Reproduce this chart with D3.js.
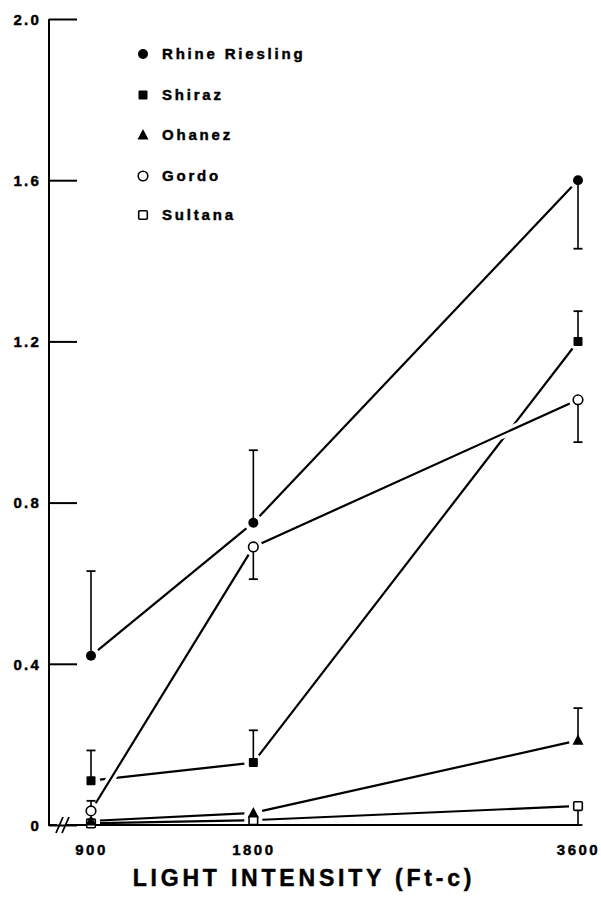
<!DOCTYPE html>
<html>
<head>
<meta charset="utf-8">
<script src="https://cdn.jsdelivr.net/npm/d3@7"></script>
<style>
  html, body { margin: 0; padding: 0; background: #fff; }
  svg { display: block; }
  text { font-family: "Liberation Sans", Arial, Helvetica, sans-serif; font-weight: bold; fill: #000; stroke: #000; stroke-width: 0.45px; }
</style>
</head>
<body>
<svg id="chart" width="601" height="897"></svg>
<script>
// ---- data ----
const intensities = [900, 1800, 3600];
const yTicks = [0, 0.4, 0.8, 1.2, 1.6, 2.0];
const yTickLabels = ["0", "0.4", "0.8", "1.2", "1.6", "2.0"];
const varieties = ["Rhine Riesling", "Shiraz", "Ohanez", "Gordo", "Sultana"];
const rhineRiesling = [0.42, 0.75, 1.60];
const shiraz = [0.11, 0.155, 1.20];
const ohanez = [0.01, 0.03, 0.21];
const gordo = [0.035, 0.69, 1.055];
const sultana = [0.004, 0.012, 0.047];
// error bar end values (null = none shown)
const rhineRieslingErr = [0.63, 0.93, 1.43];
const shirazErr = [0.185, 0.235, 1.275];
const ohanezErr = [null, null, 0.29];
const gordoErr = [0.06, 0.61, 0.95];
const sultanaErr = [null, null, 0.0];
const markers = ["circleFilled", "squareFilled", "triangleFilled", "circleOpen", "squareOpen"];

const seriesValues = [rhineRiesling, shiraz, ohanez, gordo, sultana];
const seriesErr = [rhineRieslingErr, shirazErr, ohanezErr, gordoErr, sultanaErr];

// ---- scales ----
const svg = d3.select("#chart");
const x = d3.scaleLinear().domain([900, 3600]).range([91, 578]);
const y = d3.scaleLinear().domain([0, 2]).range([825, 19]);
const axisX = 49;

// ---- y axis ----
const yAxis = d3.axisLeft(y)
  .tickValues(yTicks)
  .tickSize(-28)
  .tickPadding(8)
  .tickFormat((d, i) => yTickLabels[i]);
const gy = svg.append("g").attr("transform", `translate(${axisX},0)`).call(yAxis);
gy.select(".domain").remove();
gy.selectAll(".tick line").attr("stroke", "#000").attr("stroke-width", 2);
gy.selectAll(".tick text")
  .style("font-size", "15px").style("letter-spacing", "2.2px")
  .attr("dy", "0.35em");
gy.append("line").attr("x1", 0).attr("x2", 0)
  .attr("y1", y(2)).attr("y2", y(0) + 1)
  .attr("stroke", "#000").attr("stroke-width", 2);

// ---- x axis ----
const xAxis = d3.axisBottom(x).tickValues(intensities).tickSize(0).tickPadding(19)
  .tickFormat(d3.format("d"));
const gx = svg.append("g").attr("transform", `translate(0,${y(0)})`).call(xAxis);
gx.select(".domain").remove();
gx.selectAll(".tick text").style("font-size", "15px").style("letter-spacing", "2.5px");
// baseline with break
gx.append("line").attr("x1", axisX - 1).attr("x2", 57).attr("y1", 0).attr("y2", 0)
  .attr("stroke", "#000").attr("stroke-width", 2);
gx.append("line").attr("x1", 66).attr("x2", x(3600) + 1).attr("y1", 0).attr("y2", 0)
  .attr("stroke", "#000").attr("stroke-width", 2);
[[56, 63], [62, 69]].forEach(([a, b]) => {
  gx.append("line").attr("x1", a).attr("y1", 8).attr("x2", b).attr("y2", -8)
    .attr("stroke", "#000").attr("stroke-width", 1.8);
});

svg.append("text").attr("x", 304).attr("y", 886).attr("text-anchor", "middle")
  .style("font-size", "23px").style("letter-spacing", "3.8px")
  .text("LIGHT INTENSITY (Ft-c)");

// ---- lines (with gaps at markers) ----
const gap = 9;
function segs(vals) {
  const out = [];
  for (let i = 0; i < vals.length - 1; i++) {
    const x1 = x(intensities[i]), y1 = y(vals[i]);
    const x2 = x(intensities[i + 1]), y2 = y(vals[i + 1]);
    const L = Math.hypot(x2 - x1, y2 - y1);
    const ux = (x2 - x1) / L, uy = (y2 - y1) / L;
    out.push([x1 + ux * gap, y1 + uy * gap, x2 - ux * gap, y2 - uy * gap]);
  }
  return out;
}
const lineG = svg.append("g");
const drawOrder = [0, 2, 4, 1, 3];
drawOrder.forEach(si => {
  const s = segs(seriesValues[si]);
  if (si === 3) {
    // white halo so crossing lines show a break
    lineG.selectAll(null).data(s).enter().append("line")
      .attr("x1", d => d[0]).attr("y1", d => d[1]).attr("x2", d => d[2]).attr("y2", d => d[3])
      .attr("stroke", "#fff").attr("stroke-width", 9);
  }
  lineG.selectAll(null).data(s).enter().append("line")
    .attr("x1", d => d[0]).attr("y1", d => d[1]).attr("x2", d => d[2]).attr("y2", d => d[3])
    .attr("stroke", "#000").attr("stroke-width", 2.2);
});

// ---- error bars ----
const errG = svg.append("g");
seriesErr.forEach((errs, si) => {
  errs.forEach((e, i) => {
    if (e === null) return;
    const cx = x(intensities[i]);
    errG.append("line").attr("x1", cx).attr("x2", cx)
      .attr("y1", y(seriesValues[si][i])).attr("y2", y(e))
      .attr("stroke", "#000").attr("stroke-width", 1.6);
    errG.append("line").attr("x1", cx - 4.5).attr("x2", cx + 4.5)
      .attr("y1", y(e)).attr("y2", y(e))
      .attr("stroke", "#000").attr("stroke-width", 1.8);
  });
});

// ---- markers ----
function drawMarker(g, type, cx, cy) {
  if (type === "circleFilled") {
    g.append("circle").attr("cx", cx).attr("cy", cy).attr("r", 5).attr("fill", "#000");
  } else if (type === "circleOpen") {
    g.append("circle").attr("cx", cx).attr("cy", cy).attr("r", 4.8)
      .attr("fill", "#fff").attr("stroke", "#000").attr("stroke-width", 1.6);
  } else if (type === "squareFilled") {
    g.append("rect").attr("x", cx - 4.5).attr("y", cy - 4.5).attr("width", 9).attr("height", 9)
      .attr("rx", 1).attr("fill", "#000");
  } else if (type === "squareOpen") {
    g.append("rect").attr("x", cx - 4.3).attr("y", cy - 4.3).attr("width", 8.6).attr("height", 8.6)
      .attr("rx", 1).attr("fill", "#fff").attr("stroke", "#000").attr("stroke-width", 1.6);
  } else if (type === "triangleFilled") {
    g.append("path").attr("d", `M${cx},${cy - 6} L${cx + 5.5},${cy + 4.5} L${cx - 5.5},${cy + 4.5} Z`)
      .attr("fill", "#000");
  }
}
const markG = svg.append("g");
[4, 2, 1, 3, 0].forEach(si => {
  seriesValues[si].forEach((v, i) => drawMarker(markG, markers[si], x(intensities[i]), y(v)));
});

// ---- legend ----
const legendY = [54, 95, 135, 176, 215];
const legG = svg.append("g");
varieties.forEach((name, i) => {
  drawMarker(legG, markers[i], 143, legendY[i]);
  legG.append("text").attr("x", 162).attr("y", legendY[i]).attr("dy", "0.36em")
    .style("font-size", "15px").style("letter-spacing", "2.8px")
    .text(name);
});
</script>
</body>
</html>
